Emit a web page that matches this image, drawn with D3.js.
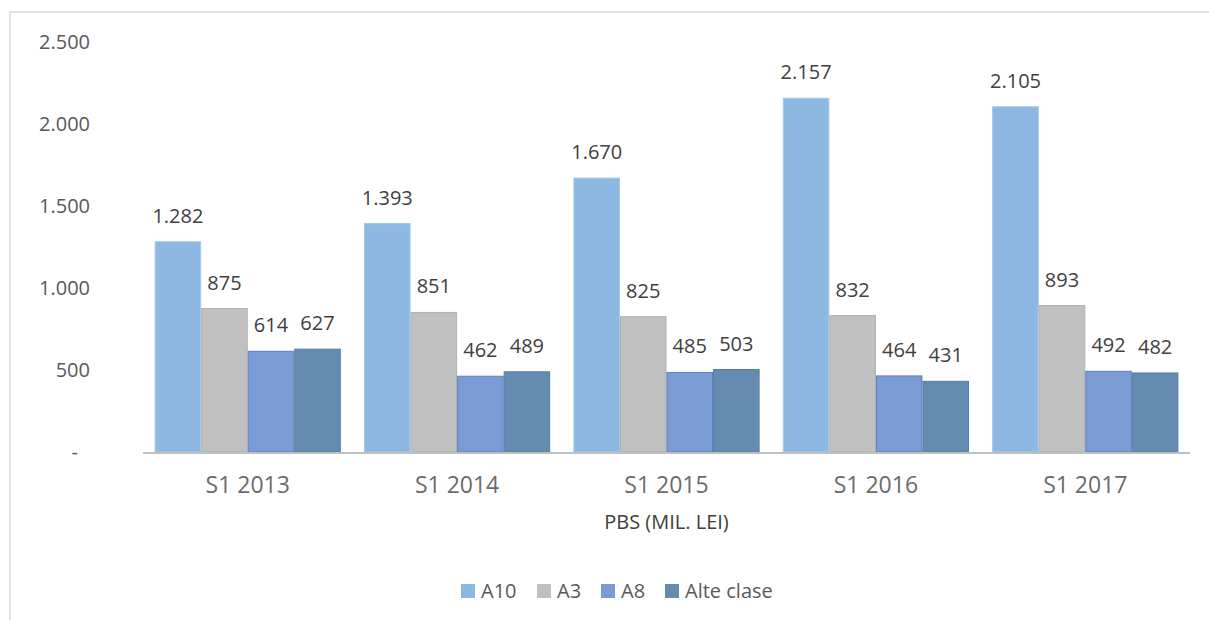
<!DOCTYPE html>
<html>
<head>
<meta charset="utf-8">
<script src="https://cdn.jsdelivr.net/npm/d3@7"></script>
<style>
  body { margin: 0; background: #fff; }
  svg { font-family: "Open Sans", "Noto Sans", sans-serif; }
</style>
</head>
<body>
<div id="chart"></div>
<script>
const categories = ['S1 2013', 'S1 2014', 'S1 2015', 'S1 2016', 'S1 2017'];
const seriesNames = ['A10', 'A3', 'A8', 'Alte clase'];
const valA10 = [1282, 1393, 1670, 2157, 2105];
const valA3 = [875, 851, 825, 832, 893];
const valA8 = [614, 462, 485, 464, 492];
const valAlte = [627, 489, 503, 431, 482];
const yTicks = [0, 500, 1000, 1500, 2000, 2500];
const axisTitle = 'PBS (MIL. LEI)';

const colors = ['#8db8e1', '#c0c0c0', '#7b9bd5', '#658bb1'];
const strokes = ['#a4c6e8', '#b0b0b0', '#5b7fc2', '#557da5'];

const width = 1209;
const height = 620;
const margin = { top: 42, bottom: 168, left: 143, right: 19 };

const allValues = [valA10, valA3, valA8, valAlte];
const data = categories.map((c, i) => ({
  cat: c,
  vals: seriesNames.map((s, j) => ({ key: s, idx: j, value: allValues[j][i] }))
}));

const loc = d3.formatLocale({ decimal: ',', thousands: '.', grouping: [3], currency: ['', ''] });
const fmt = loc.format(',d');

const svg = d3.select('#chart')
  .append('svg')
  .attr('width', width)
  .attr('height', height);

// chart frame (only top and left edges are inside the picture)
svg.append('path')
  .attr('d', `M10,${height} V12 H${width}`)
  .attr('fill', 'none')
  .attr('stroke', '#d9d9d9')
  .attr('stroke-width', 1.5);

const x0 = d3.scaleBand()
  .domain(categories)
  .range([margin.left, width - margin.right])
  .paddingInner(0.111)
  .paddingOuter(0.0555);

const x1 = d3.scaleBand()
  .domain(seriesNames)
  .range([0, x0.bandwidth()]);

const y = d3.scaleLinear()
  .domain([0, 2500])
  .range([height - margin.bottom, margin.top]);

const groups = svg.append('g')
  .selectAll('g')
  .data(data)
  .join('g')
  .attr('transform', d => `translate(${x0(d.cat)},0)`);

groups.selectAll('rect')
  .data(d => d.vals)
  .join('rect')
  .attr('x', d => x1(d.key) + 0.5)
  .attr('y', d => y(d.value))
  .attr('width', x1.bandwidth() - 1)
  .attr('height', d => y(0) - y(d.value))
  .attr('fill', d => colors[d.idx])
  .attr('stroke', d => strokes[d.idx])
  .attr('stroke-width', 1);

groups.selectAll('text')
  .data(d => d.vals)
  .join('text')
  .attr('x', d => x1(d.key) + x1.bandwidth() / 2)
  .attr('y', d => y(d.value) - 19)
  .attr('text-anchor', 'middle')
  .attr('font-size', '20px')
  .attr('fill', '#404040')
  .text(d => fmt(d.value));

// x axis line
svg.append('line')
  .attr('x1', margin.left)
  .attr('x2', width - margin.right)
  .attr('y1', y(0) + 1)
  .attr('y2', y(0) + 1)
  .attr('stroke', '#bfbfbf')
  .attr('stroke-width', 2);

// category labels
const xAxis = svg.append('g')
  .attr('transform', `translate(0,${y(0)})`)
  .call(d3.axisBottom(x0).tickSize(0).tickPadding(25));
xAxis.select('.domain').remove();
xAxis.selectAll('text')
  .attr('font-size', '23px')
  .attr('fill', '#6b6b6b')
  .attr('font-family', '"Open Sans", "Noto Sans", sans-serif');

// y axis labels
const yAxis = svg.append('g')
  .attr('transform', 'translate(90,0)')
  .call(d3.axisLeft(y).tickValues(yTicks).tickSize(0).tickPadding(0)
    .tickFormat(d => d === 0 ? '-' : fmt(d)));
yAxis.select('.domain').remove();
yAxis.selectAll('text')
  .attr('font-size', '20px')
  .attr('fill', '#595959')
  .attr('font-family', '"Open Sans", "Noto Sans", sans-serif')
  .attr('dx', d => d === 0 ? -12 : 0);

// axis title
svg.append('text')
  .attr('x', (margin.left + width - margin.right) / 2)
  .attr('y', 529)
  .attr('text-anchor', 'middle')
  .attr('font-size', '20px')
  .attr('fill', '#404040')
  .text(axisTitle);

// legend
const legendX = [461, 537, 601, 665];
const legend = svg.append('g')
  .selectAll('g')
  .data(seriesNames)
  .join('g')
  .attr('transform', (d, i) => `translate(${legendX[i]},584)`);

legend.append('rect')
  .attr('width', 14)
  .attr('height', 14)
  .attr('fill', (d, i) => colors[i]);

legend.append('text')
  .attr('x', 20)
  .attr('y', 14)
  .attr('font-size', '20px')
  .attr('fill', '#595959')
  .text(d => d);
</script>
</body>
</html>
